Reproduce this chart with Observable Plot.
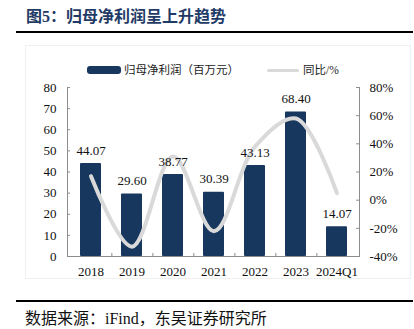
<!DOCTYPE html>
<html>
<head>
<meta charset="utf-8">
<script src="https://cdn.jsdelivr.net/npm/d3@7"></script>
<script src="https://cdn.jsdelivr.net/npm/@observablehq/plot@0.6"></script>
<style>
  html, body { margin: 0; padding: 0; background: #fff; }
  #wrap { position: relative; width: 414px; height: 329px; overflow: hidden; background: #fff; }
  .abs { position: absolute; white-space: nowrap; }
  #title { left: 26px; top: 6px; font: bold 16px "Liberation Serif", "Noto Sans CJK SC", serif; color: #1f3b66; line-height: 22px; }
  .rule { left: 16px; width: 397px; height: 2px; background: #000; }
  #frame { left: 25px; top: 45px; width: 384px; height: 232px; border: 1px solid #f0f0f0; }
  .leg { font: 11.5px "Liberation Serif", "Noto Sans CJK SC", serif; color: #222; line-height: 14px; }
  #src { left: 25px; top: 309px; font: 16px "Liberation Serif", "Noto Sans CJK SC", serif; color: #111; line-height: 20px; }
  svg { position: absolute; left: 0; top: 0; }
</style>
</head>
<body>
<div id="wrap">
  <div id="frame" class="abs"></div>
  <div id="title" class="abs">图5：归母净利润呈上升趋势</div>
  <div class="abs rule" style="top:31px"></div>
  <div class="abs" style="left:87px;top:66px;width:34px;height:8px;background:#17375e;border-radius:3px"></div>
  <div class="abs leg" style="left:124px;top:63px">归母净利润（百万元）</div>
  <div class="abs" style="left:267px;top:69px;width:32px;height:3px;background:#d9d9d9;border-radius:2px"></div>
  <div class="abs leg" style="left:303px;top:63px">同比/%</div>
  <div class="abs rule" style="top:300px"></div>
  <div id="src" class="abs">数据来源：iFind，东吴证券研究所</div>
</div>
<script>
const categories = ["2018", "2019", "2020", "2021", "2022", "2023", "2024Q1"];
const netProfit = [44.07, 29.60, 38.77, 30.39, 43.13, 68.40, 14.07];
const yoyPct = [17, -33, 31, -22, 38, 58, 5];
const leftTicks = [0, 10, 20, 30, 40, 50, 60, 70, 80];
const rightTicks = [-40, -20, 0, 20, 40, 60, 80];

const W = 414, H = 329;
const mL = 67, mR = 55, mT = 87, mB = 73;
const rightMin = -40, rightMax = 80, leftMax = 80;
const toLeft = p => (p - rightMin) / (rightMax - rightMin) * leftMax;
const fromLeft = v => Math.round(v / leftMax * (rightMax - rightMin) + rightMin);

const data = categories.map((c, i) => ({cat: c, v: netProfit[i], p: yoyPct[i]}));
const frameW = W - mL - mR, frameH = H - mT - mB;
const halfStep = frameW / categories.length / 2;
const axisColor = "#8c8c8c";
const navy = "#17375e";

const chart = Plot.plot({
  width: W, height: H,
  marginLeft: mL, marginRight: mR, marginTop: mT, marginBottom: mB,
  style: {fontFamily: "'Liberation Serif', serif", fontSize: "13px", color: "#111", background: "transparent"},
  x: {type: "band", domain: categories, paddingInner: 0.5, paddingOuter: 0.25, axis: null},
  y: {domain: [0, leftMax], axis: null},
  marks: [
    Plot.barY(data, {x: "cat", y: "v", fill: navy, rx: 1}),
    Plot.line(data, {x: "cat", y: d => toLeft(d.p), curve: "catmull-rom", stroke: "#d9d9d9", strokeWidth: 4, strokeLinecap: "round"}),
    Plot.text(data, {x: "cat", y: "v", text: d => d.v.toFixed(2), dy: -13, fontSize: 13, fill: "#111"}),
    // axis lines
    Plot.ruleY([0], {stroke: axisColor}),
    Plot.frame({anchor: "left", stroke: axisColor}),
    Plot.frame({anchor: "right", stroke: axisColor}),
    // inward ticks
    Plot.tickY(leftTicks, {y: d => d, stroke: axisColor, insetRight: frameW - 3}),
    Plot.tickY(rightTicks.map(toLeft), {y: d => d, stroke: axisColor, insetLeft: frameW - 3}),
    Plot.tickX(categories.slice(0, -1), {x: d => d, dx: halfStep, stroke: axisColor, insetTop: frameH - 3}),
    // tick labels
    Plot.axisY(leftTicks, {anchor: "left", tickSize: 0, tickPadding: 11, fontSize: 13, fill: "#111", label: null}),
    Plot.axisY(rightTicks.map(toLeft), {anchor: "right", tickSize: 0, tickPadding: 10, fontSize: 13, fill: "#111", label: null, textAnchor: "start", tickFormat: v => fromLeft(v) + "%"}),
    Plot.axisX({anchor: "bottom", tickSize: 0, tickPadding: 10, fontSize: 13, fill: "#111", label: null})
  ]
});
document.getElementById("wrap").appendChild(chart);
</script>
</body>
</html>
